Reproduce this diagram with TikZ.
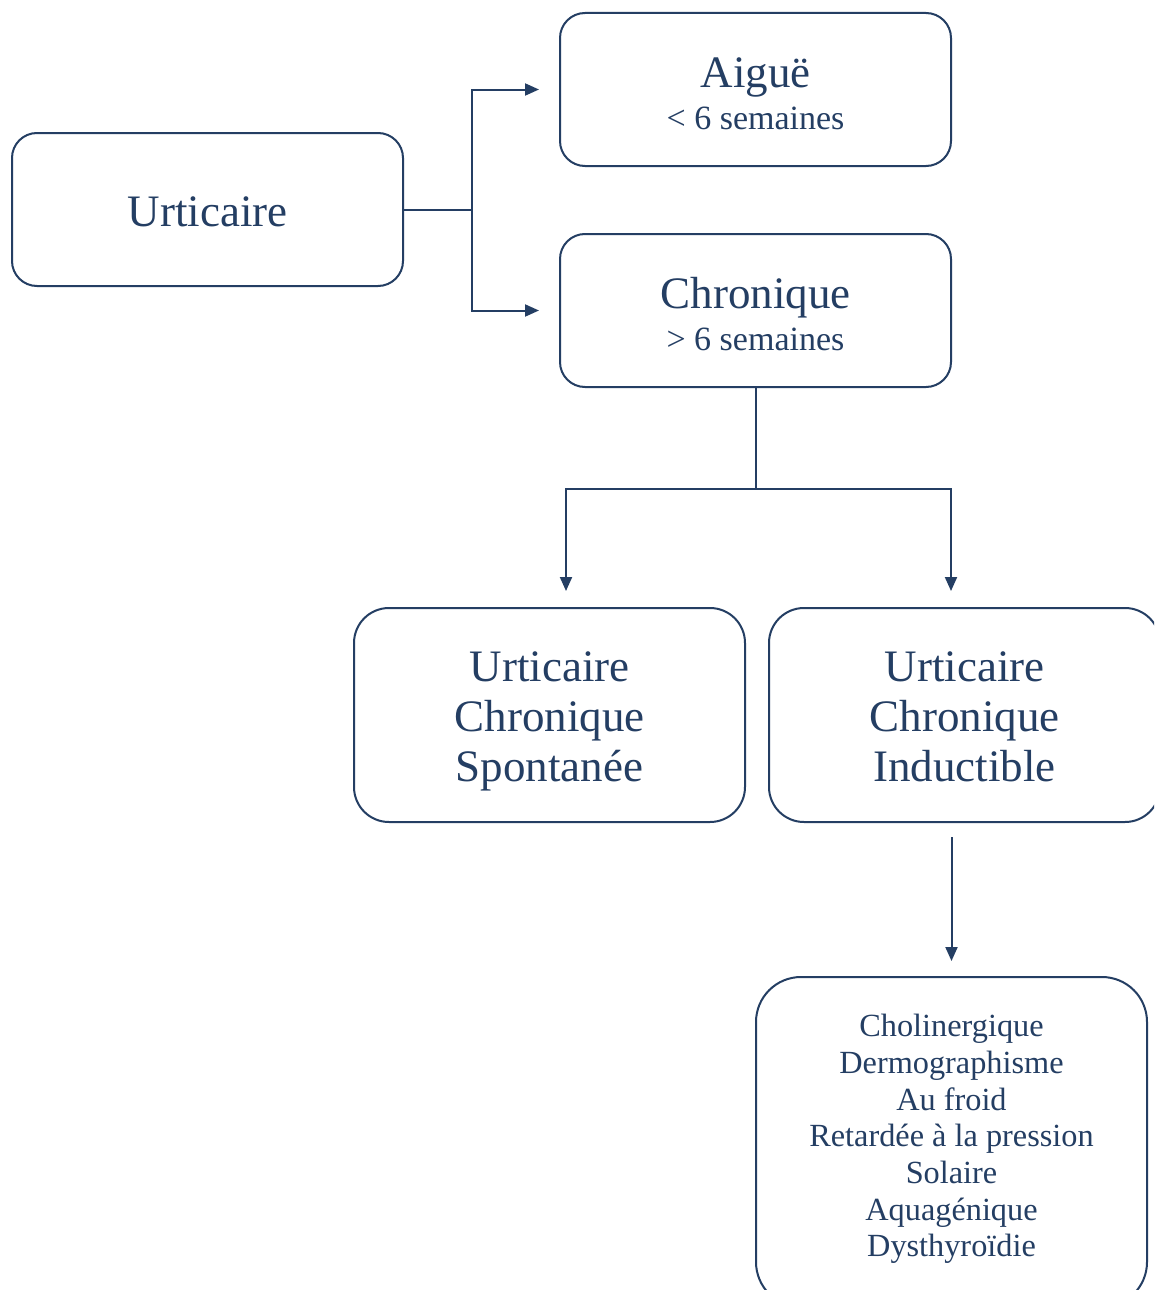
\documentclass[tikz,border=0pt]{standalone}
\usepackage{fontspec}
\setmainfont{Liberation Serif}
\usetikzlibrary{arrows.meta}
\definecolor{navy}{RGB}{36,62,99}
\begin{document}
\begin{tikzpicture}[x=1pt,y=-1pt,
  box/.style={draw=navy, line width=2pt, minimum width=391pt, inner sep=0pt},
  txt/.style={align=center, text=navy, inner sep=0pt},
  arr/.style={draw=navy, line width=2pt, -{Triangle[length=14pt,width=12pt]}},
  ln/.style={draw=navy, line width=2pt},
  big/.style={font=\fontsize{45}{50}\selectfont},
  small/.style={font=\fontsize{32.3}{36.7}\selectfont},
]
\useasboundingbox (0,0) rectangle (1154,1290);
\clip (0,0) rectangle (1154,1290);
\fill[white] (0,0) rectangle (1154,1290);

\node[box, rounded corners=25pt, minimum height=153pt] (urt) at (207.5,209.5) {};
\node[box, rounded corners=25pt, minimum height=153pt] (aig) at (755.5,89.5) {};
\node[box, rounded corners=25pt, minimum height=153pt] (chr) at (755.5,310.5) {};
\node[box, rounded corners=35pt, minimum height=214pt] (ucs) at (549.5,715) {};
\node[box, rounded corners=35pt, minimum height=214pt] (uci) at (964.5,715) {};
\node[box, rounded corners=45pt, minimum height=330pt] (lst) at (951.5,1142) {};

\node[txt, big] (urtt) at ([yshift=-2pt]urt.center) {Urticaire};
\node[txt, big] (aigt) at ([yshift=-4pt]aig.center)
  {Aiguë\\[-8pt]{\fontsize{34}{34}\selectfont < 6 semaines}};
\node[txt, big] (chrt) at ([yshift=-4pt]chr.center)
  {Chronique\\[-8pt]{\fontsize{34}{34}\selectfont > 6 semaines}};
\node[txt, big] (ucst) at ([yshift=-6pt]ucs.center)
  {Urticaire\\Chronique\\Spontanée};
\node[txt, big] (ucit) at ([yshift=-6pt]uci.center)
  {Urticaire\\Chronique\\Inductible\vphantom{p}};
\node[txt, small] (lstt) at ([yshift=3pt]lst.center)
  {Cholinergique\\Dermographisme\\Au froid\\Retardée à la pression\\Solaire\\Aquagénique\\Dysthyroïdie};

\coordinate (j1) at (472,209.5);
\draw[ln] (urt.east) -- (j1);
\draw[arr, shorten >=20pt] (j1) |- (aig.west);
\draw[arr, shorten >=20pt] (j1) |- (chr.west);

\coordinate (j2) at (755.5,489);
\coordinate (t1) at (566,591);
\coordinate (t2) at (951,591);
\draw[ln] (chr.south) -- (j2);
\draw[arr] (j2) -| (t1);
\draw[arr] (j2) -| (t2);

\draw[arr, shorten <=14pt, shorten >=15pt] (uci.south -| lst.north) -- (lst.north);
\end{tikzpicture}
\end{document}
